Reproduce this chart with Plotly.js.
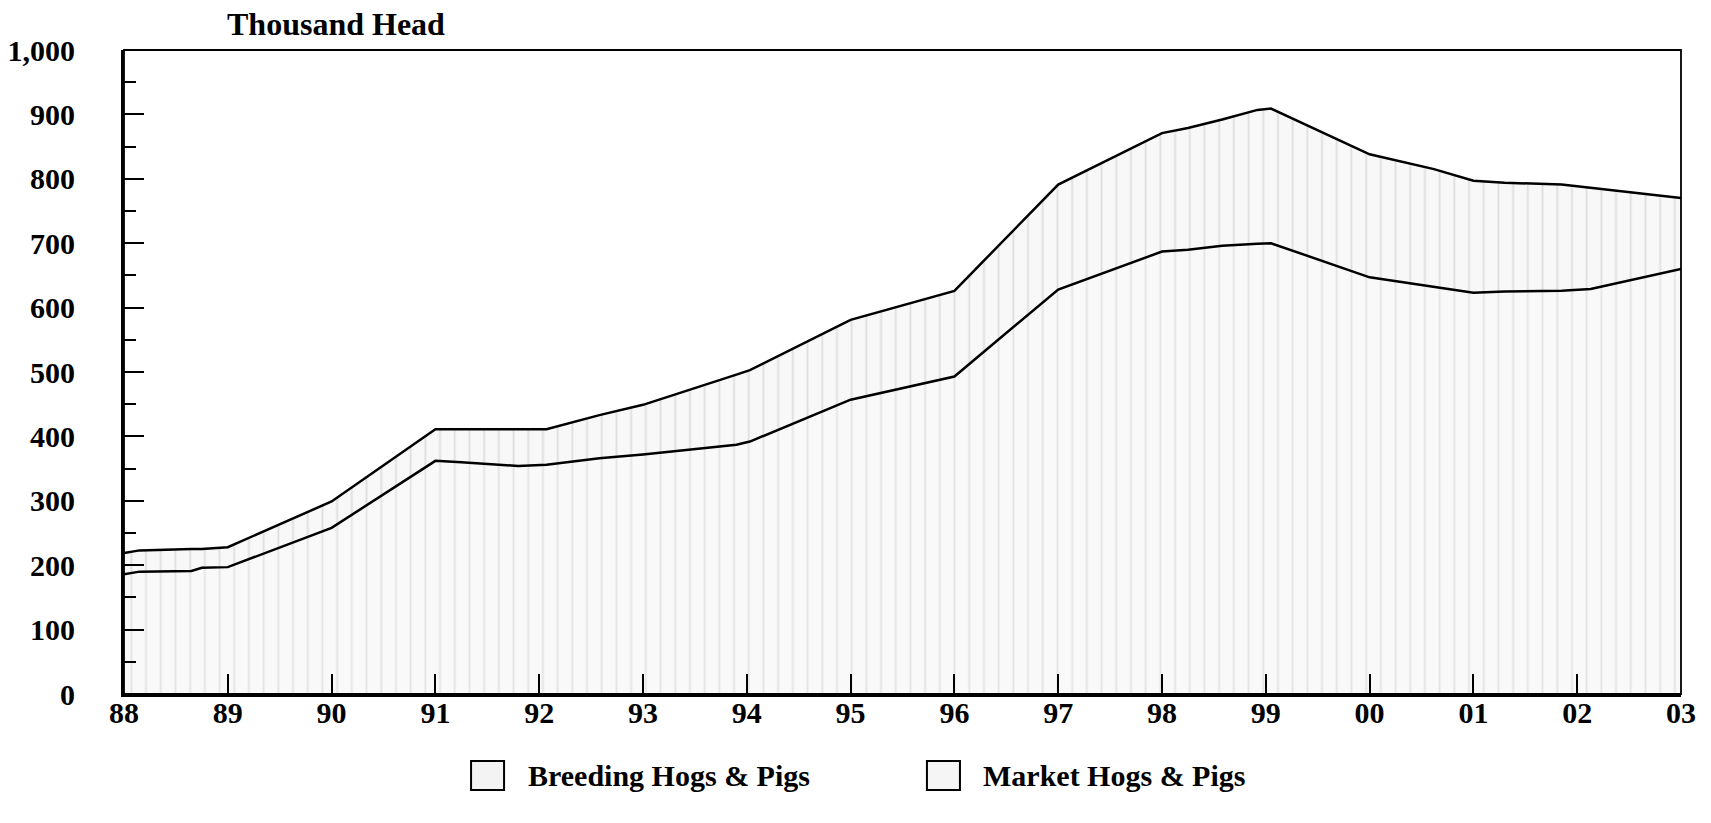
<!DOCTYPE html>
<html>
<head>
<meta charset="utf-8">
<script src="https://cdn.plot.ly/plotly-3.0.1.min.js"></script>
<style>
  html, body { margin: 0; padding: 0; background: #ffffff; }
  #chart { width: 1711px; height: 823px; }
</style>
</head>
<body>
<div id="chart"></div>
<script>
// Time points (decimal years)
const years = [1988.0, 1988.15, 1988.65, 1988.75, 1989.0, 1990.0, 1991.0, 1991.25, 1991.8,
  1992.07, 1992.58, 1993.0, 1993.9, 1994.03, 1995.0, 1996.0, 1997.0, 1998.0, 1998.25,
  1998.58, 1998.92, 1999.05, 2000.0, 2000.62, 2001.0, 2001.3, 2001.85, 2002.13, 2003.0];

// Market Hogs & Pigs (thousand head) - lower band
const market = [186, 190, 191, 196, 197, 258, 362, 360, 354,
  356, 366, 372, 387, 392, 457, 493, 628, 687, 690,
  696, 699, 700, 647, 632, 623, 625, 626, 629, 660];

// Breeding Hogs & Pigs (thousand head) - upper band
const breeding = [33, 33, 34, 29, 31, 41, 49, 51, 57,
  55, 67, 77, 109, 111, 124, 133, 163, 184, 189,
  196, 208, 209, 191, 183, 174, 169, 165, 157, 110];

const tickYears = [1988, 1989, 1990, 1991, 1992, 1993, 1994, 1995, 1996, 1997, 1998, 1999, 2000, 2001, 2002, 2003];
const tickLabels = ['88', '89', '90', '91', '92', '93', '94', '95', '96', '97', '98', '99', '00', '01', '02', '03'];
const yTicks = [0, 100, 200, 300, 400, 500, 600, 700, 800, 900, 1000];

const seriesNames = ['Breeding Hogs & Pigs', 'Market Hogs & Pigs'];

const FONT = 'Liberation Serif, Times New Roman, serif';

const traces = [
  {
    x: years, y: market, name: seriesNames[1],
    type: 'scatter', mode: 'lines', stackgroup: 'hogs',
    line: { color: '#000000', width: 2.5 },
    fillcolor: '#f8f8f8',
    fillpattern: { shape: '|', bgcolor: '#f9f9f9', fgcolor: '#e3e3e3', size: 14.7, solidity: 0.12 },
    showlegend: false, hoverinfo: 'x+y'
  },
  {
    x: years, y: breeding, name: seriesNames[0],
    type: 'scatter', mode: 'lines', stackgroup: 'hogs',
    line: { color: '#000000', width: 2.5 },
    fillcolor: '#f8f8f8',
    fillpattern: { shape: '|', bgcolor: '#f8f8f8', fgcolor: '#dedede', size: 14.7, solidity: 0.12 },
    showlegend: false, hoverinfo: 'x+y'
  }
];

const tickFont = { family: FONT, size: 30, color: '#000000', weight: 'bold' };

const layout = {
  width: 1711, height: 823,
  margin: { l: 124, r: 30, t: 50, b: 129 },
  paper_bgcolor: '#ffffff', plot_bgcolor: '#ffffff',
  showlegend: false,
  xaxis: {
    range: [1988, 2003], tickmode: 'array', tickvals: tickYears, ticktext: tickLabels,
    ticks: 'inside', ticklen: 20, tickwidth: 2, tickcolor: '#000000',
    showline: true, linewidth: 3, linecolor: '#000000',
    showgrid: false, zeroline: false, tickfont: tickFont, ticklabelstandoff: -10
  },
  yaxis: {
    range: [0, 1000], tickmode: 'array', tickvals: yTicks, tickformat: ',',
    ticks: 'inside', ticklen: 20, tickwidth: 2, tickcolor: '#000000',
    minor: { dtick: 50, tick0: 0, ticks: 'inside', ticklen: 12, tickwidth: 2, tickcolor: '#000000', showgrid: false },
    showline: true, linewidth: 3, linecolor: '#000000',
    showgrid: false, zeroline: false, tickfont: tickFont, ticklabelstandoff: 40
  },
  shapes: [
    { type: 'rect', xref: 'paper', yref: 'paper', x0: 0, x1: 1, y0: 0, y1: 1,
      line: { color: '#000000', width: 1.8 }, fillcolor: 'rgba(0,0,0,0)', layer: 'above' },
    { type: 'rect', xref: 'paper', yref: 'paper', x0: 0.2229, x1: 0.2441, y0: -0.149, y1: -0.104,
      line: { color: '#000000', width: 2 }, fillcolor: '#f3f3f3' },
    { type: 'rect', xref: 'paper', yref: 'paper', x0: 0.5157, x1: 0.5369, y0: -0.149, y1: -0.104,
      line: { color: '#000000', width: 2 }, fillcolor: '#f5f5f5' }
  ],
  annotations: [
    { text: 'Thousand Head', xref: 'paper', yref: 'paper', x: 0.136, y: 1.040,
      xanchor: 'center', yanchor: 'middle', showarrow: false,
      font: { family: FONT, size: 32, color: '#000000', weight: 'bold' } },
    { text: seriesNames[0], xref: 'paper', yref: 'paper', x: 0.2582, y: -0.1273,
      xanchor: 'left', yanchor: 'middle', showarrow: false,
      font: { family: FONT, size: 30, color: '#000000', weight: 'bold' } },
    { text: seriesNames[1], xref: 'paper', yref: 'paper', x: 0.5504, y: -0.1273,
      xanchor: 'left', yanchor: 'middle', showarrow: false,
      font: { family: FONT, size: 30, color: '#000000', weight: 'bold' } }
  ]
};

Plotly.newPlot('chart', traces, layout, { staticPlot: true, displayModeBar: false });
</script>
</body>
</html>
